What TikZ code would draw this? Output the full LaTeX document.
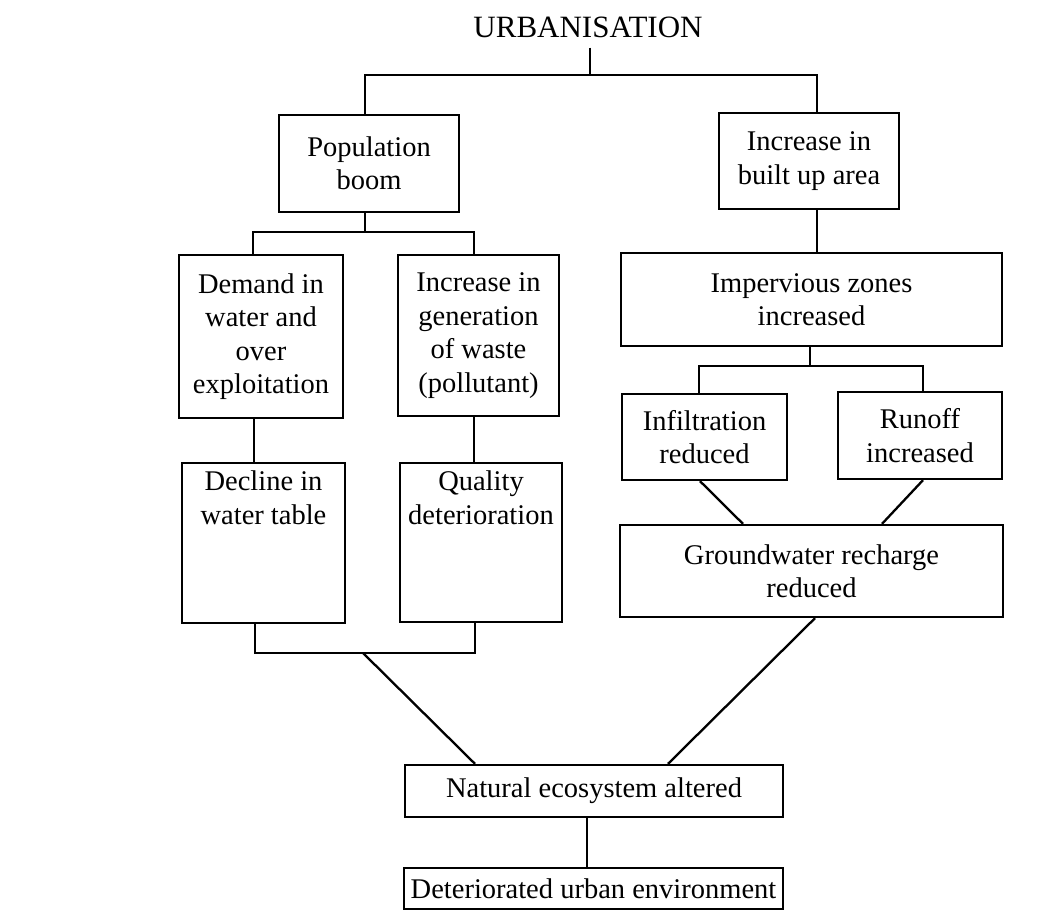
\documentclass[tikz,border=0pt]{standalone}
\usepackage{fontspec}
\setmainfont{Liberation Serif}
\newcommand\boxfont{\fontsize{28.5}{33.5}\selectfont}
\newcommand\titlefont{\fontsize{31}{36}\selectfont}
\begin{document}
\begin{tikzpicture}[x=1pt,y=-1pt,
  box/.style={draw, line width=2.3pt, align=center, inner sep=0pt, font=\boxfont},
  toptext/.style={font=\boxfont, align=center, inner sep=0pt, anchor=north, yshift=-9pt},
  link/.style={line width=2.3pt},
]
\useasboundingbox (0,0) rectangle (1049,912);
\fill[white] (0,0) rectangle (1049,912);

% title
\node[font=\titlefont, inner xsep=0pt, inner ysep=10pt] (urb) at (588,27) {URBANISATION};

% left branch
\node[box, minimum width=180pt, minimum height=97pt] (pop) at (369,163.5) {Population\\boom};
\node[box, minimum width=164pt, minimum height=163pt] (demand) at (261,336.5) {Demand in\\water and\\over\\exploitation};
\node[box, minimum width=161pt, minimum height=161pt] (gen) at (478.5,335.5) {Increase in\\generation\\of waste\\(pollutant)};
\node[box, minimum width=163pt, minimum height=160pt,
      label={[toptext]north:{Decline in\\water table}}] (decline) at (263.5,543) {};
\node[box, minimum width=162pt, minimum height=159pt,
      label={[toptext]north:{Quality\\deterioration}}] (quality) at (481,542.5) {};

% right branch
\node[box, minimum width=180pt, minimum height=96pt] (built) at (809,161) {Increase in\\built up area};
\node[box, minimum width=381pt, minimum height=93pt] (imperv) at (811.5,299.5) {Impervious zones\\increased};
\node[box, minimum width=165pt, minimum height=86pt] (infil) at (704.5,437) {Infiltration\\reduced};
\node[box, minimum width=164pt, minimum height=87pt] (runoff) at (920,435.5) {Runoff\\increased};
\node[box, minimum width=383pt, minimum height=92pt] (gw) at (811.5,571) {Groundwater recharge\\reduced};

% outcome
\node[box, minimum width=378pt, minimum height=52pt] (natural) at (594,791) {Natural ecosystem altered};
\node[box, minimum width=379pt, minimum height=41pt] (deter) at (593.5,888.5) {Deteriorated urban environment};

% junction points
\coordinate (j1) at (590,75);
\coordinate (j2) at (365,232);
\coordinate (j3) at (363,653);
\coordinate (j4) at (810,366);

% connectors
\draw[link] (urb.south -| j1) -- (j1);
\draw[link] ([xshift=-4pt]pop.north) |- (j1) -| ([xshift=8pt]built.north);

\draw[link] ([xshift=-4pt]pop.south) -- (j2);
\draw[link] ([xshift=-8pt]demand.north) |- (j2) -| ([xshift=-4.5pt]gen.north);
\draw[link] ([xshift=-7pt]demand.south) -- ([xshift=-7pt]demand.south |- decline.north);
\draw[link] ([xshift=-4.5pt]gen.south) -- ([xshift=-4.5pt]gen.south |- quality.north);
\draw[link] ([xshift=-8.5pt]decline.south) |- (j3) -| ([xshift=-6pt]quality.south);
\draw[link] (j3) -- ([xshift=-119pt]natural.north);

\draw[link] ([xshift=8pt]built.south) -- ([xshift=8pt]built.south |- imperv.north);
\draw[link] ([xshift=-1.5pt]imperv.south) -- (j4);
\draw[link] ([xshift=-5.5pt]infil.north) |- (j4) -| ([xshift=3pt]runoff.north);
\draw[link] ([xshift=-4.5pt]infil.south) -- ([xshift=-68.5pt]gw.north);
\draw[link] ([xshift=3pt]runoff.south) -- ([xshift=70.5pt]gw.north);
\draw[link] ([xshift=3.5pt]gw.south) -- ([xshift=74pt]natural.north);

\draw[link] ([xshift=-7pt]natural.south) -- ([xshift=-7pt]natural.south |- deter.north);
\end{tikzpicture}
\end{document}
